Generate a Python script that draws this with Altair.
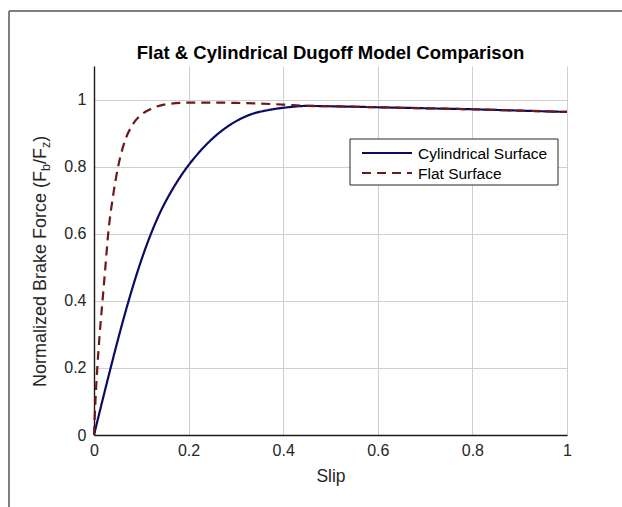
import altair as alt
import pandas as pd

# ---- data ----
cyl_slip = [0, 0.02, 0.035, 0.05, 0.072, 0.095, 0.118, 0.14, 0.165, 0.195, 0.22, 0.25,
            0.286, 0.33, 0.37, 0.41, 0.45, 0.5, 0.6, 0.7, 0.8, 0.9, 1.0]
cyl_force = [0, 0.115, 0.199, 0.281, 0.394, 0.500, 0.591, 0.664, 0.730, 0.795, 0.839, 0.883,
             0.923, 0.955, 0.969, 0.977, 0.981, 0.980, 0.977, 0.974, 0.971, 0.967, 0.963]

flat_slip = [0, 0.003, 0.007, 0.012, 0.018, 0.024, 0.030, 0.040, 0.051, 0.065, 0.083, 0.100,
             0.120, 0.153, 0.2, 0.25, 0.3, 0.35, 0.4, 0.45, 0.5, 0.6, 0.7, 0.8, 0.9, 1.0]
flat_force = [0, 0.1, 0.2, 0.3, 0.4, 0.5, 0.6, 0.71, 0.8, 0.875, 0.928, 0.955,
              0.972, 0.986, 0.991, 0.991, 0.990, 0.988, 0.985, 0.981, 0.980, 0.977, 0.974, 0.971, 0.967, 0.963]

series_names = ["Cylindrical Surface", "Flat Surface"]
series_colors = ["#0b0b64", "#6e1818"]
series_dash = [[1, 0], [9, 6]]
tick_values = [0, 0.2, 0.4, 0.6, 0.8, 1.0]

title_text = "Flat & Cylindrical Dugoff Model Comparison"
x_title = "Slip"
ylabel_main = "Normalized Brake Force (F"
ylabel_sub1 = "b"
ylabel_mid = "/F"
ylabel_sub2 = "z"
ylabel_end = ")"

FONT = "Liberation Sans"
TXT = "#262626"

df = pd.concat([
    pd.DataFrame({"slip": cyl_slip, "force": cyl_force, "series": series_names[0], "ord": 0}),
    pd.DataFrame({"slip": flat_slip, "force": flat_force, "series": series_names[1], "ord": 1}),
], ignore_index=True)

W, H = 473, 369
PL, PT = 94, 66

axis_common = dict(values=tick_values, format="~g", grid=True, ticks=False, labelFlush=False,
                   domainColor="#1a1a1a", domainWidth=1.4,
                   gridColor="#cfcfcf", gridWidth=1,
                   labelFont=FONT, labelFontSize=16, labelColor=TXT,
                   titleFont=FONT, titleFontSize=17.5, titleFontWeight="normal",
                   titleColor=TXT)

lines = alt.Chart(df).mark_line(strokeWidth=2.2, interpolate="monotone").encode(
    x=alt.X("slip:Q", scale=alt.Scale(domain=[0, 1], nice=False, zero=False),
            axis=alt.Axis(title=x_title, labelPadding=7, titlePadding=9, **axis_common)),
    y=alt.Y("force:Q", scale=alt.Scale(domain=[0, 1.1], nice=False, zero=False),
            axis=alt.Axis(title="", labelPadding=8, **axis_common)),
    color=alt.Color("series:N",
                    scale=alt.Scale(domain=series_names, range=series_colors),
                    legend=None),
    strokeDash=alt.StrokeDash("series:N",
                              scale=alt.Scale(domain=series_names, range=series_dash),
                              legend=None),
    order=alt.Order("ord:Q"),
)

one = pd.DataFrame({"k": [0]})

# legend box (drawn as marks)
leg_box = alt.Chart(one).mark_rect(fill="#ffffff", stroke="#262626", strokeWidth=1).encode(
    x=alt.value(350 - PL), x2=alt.value(558 - PL), y=alt.value(139 - PT), y2=alt.value(185 - PT))
leg_rows = [153 - PT, 173 - PT]
leg_parts = [leg_box]
for i, name in enumerate(series_names):
    leg_parts.append(alt.Chart(one).mark_rule(color=series_colors[i], strokeWidth=2.2,
                                              strokeDash=series_dash[i]).encode(
        x=alt.value(362 - PL), x2=alt.value(412 - PL), y=alt.value(leg_rows[i])))
    leg_parts.append(alt.Chart(pd.DataFrame({"t": [name]})).mark_text(
        align="left", baseline="middle", font=FONT, fontSize=15.5, color="#000000").encode(
        x=alt.value(418 - PL), y=alt.value(leg_rows[i] + 1), text="t:N"))

def ytext(txt, y, size, dx=0):
    return alt.Chart(pd.DataFrame({"t": [txt]})).mark_text(
        angle=270, align="left", baseline="alphabetic", font=FONT,
        fontSize=size, color=TXT
    ).encode(x=alt.value(-48 + dx), y=alt.value(y), text="t:N")

FS, FSS = 18, 12.5
y0 = 387 - PT
w_main = 12.002 * FS
w_b = 0.556 * FSS
w_mid = 0.889 * FS
w_z = 0.5 * FSS
lab = (ytext(ylabel_main, y0, FS)
       + ytext(ylabel_sub1, y0 - w_main, FSS, dx=4)
       + ytext(ylabel_mid, y0 - w_main - w_b, FS)
       + ytext(ylabel_sub2, y0 - w_main - w_b - w_mid, FSS, dx=4)
       + ytext(ylabel_end, y0 - w_main - w_b - w_mid - w_z, FS))

title = alt.Chart(pd.DataFrame({"t": [title_text]})).mark_text(
    align="center", baseline="alphabetic", font=FONT, fontSize=18.5, fontWeight="bold",
    color="#000000").encode(x=alt.value(W / 2), y=alt.value(59 - PT), text="t:N")

frame_left = alt.Chart(one).mark_rule(color="#555555", strokeWidth=1.5).encode(
    x=alt.value(9 - PL), y=alt.value(11 - PT), y2=alt.value(507 - PT))
frame_top = alt.Chart(one).mark_rule(color="#555555", strokeWidth=1.5).encode(
    x=alt.value(9 - PL), x2=alt.value(622 - PL), y=alt.value(11 - PT))

chart = alt.layer(frame_left, frame_top, lines, *leg_parts, lab, title).properties(
    width=W, height=H,
    background="#ffffff",
    autosize=alt.AutoSizeParams(type="none"),
    padding={"left": PL, "top": PT, "right": 622 - PL - W, "bottom": 507 - PT - H},
).configure_view(stroke=None)

chart.save("out.html", embed_options={"renderer": "svg", "actions": False})
